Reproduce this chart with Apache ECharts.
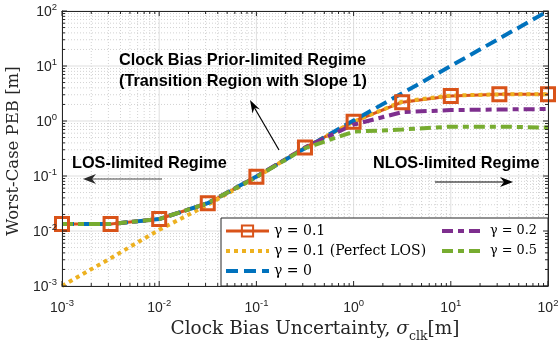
<!DOCTYPE html>
<html><head><meta charset="utf-8">
<script src="https://cdn.jsdelivr.net/npm/echarts@6/dist/echarts.min.js"></script>
<style>html,body{margin:0;padding:0;background:#fff}#c{width:558px;height:340px}</style>
</head><body><div id="c"></div>
<script>
// ---- data ----
const sigmaClk = [0.001, 0.00316, 0.01, 0.0316, 0.1, 0.316, 1, 3.16, 10, 31.6, 100];
const pebGamma01 = [0.0134, 0.0134, 0.0165, 0.032, 0.097, 0.33, 0.97, 2.2, 2.85, 3.05, 3.05];
const pebGamma01PerfectLOS = [0.001, 0.0032, 0.0105, 0.03, 0.095, 0.33, 0.97, 2.25, 2.9, 3.05, 3.05];
const pebGamma0 = [0.0134, 0.0134, 0.0165, 0.032, 0.098, 0.32, 1.02, 3.2, 10, 31.6, 100];
const pebGamma02 = [0.0134, 0.0134, 0.0165, 0.032, 0.097, 0.33, 0.86, 1.45, 1.58, 1.62, 1.65];
const pebGamma05 = [0.0134, 0.0134, 0.0165, 0.032, 0.096, 0.32, 0.64, 0.7, 0.79, 0.79, 0.76];
const seriesNames = ['γ = 0.1', 'γ = 0.1 (Perfect LOS)', 'γ = 0', 'γ = 0.2', 'γ = 0.5'];
const axisMin = 0.001, axisMax = 100;
const decadeExponents = [-3, -2, -1, 0, 1, 2];

// grid positions (major decades + minor 2..9)
const gridVals = [];
decadeExponents.forEach(e => {
  gridVals.push([Math.pow(10, e), 1]);
  if (e < 2) for (let m = 2; m <= 9; m++) gridVals.push([m * Math.pow(10, e), 0]);
});

const AX = '#262626';
const sans = 'Liberation Sans, Arial, sans-serif';
const serif = 'DejaVu Serif, serif';

const chart = echarts.init(document.getElementById('c'), null, {renderer: 'canvas'});

function pairs(ys) { return sigmaClk.map((x, i) => [x, ys[i]]); }

const tickLabel = {
  formatter: v => '{b|10}{s|' + Math.round(Math.log10(v)) + '}',
  rich: {
    b: {fontSize: 14, fontFamily: sans, color: AX, verticalAlign: 'bottom'},
    s: {fontSize: 9.5, fontFamily: sans, color: AX, verticalAlign: 'bottom', padding: [0, 0, 7, 0]}
  }
};

function xGridItem(params, api) {
  const v = api.value(0), major = api.value(2);
  const a = api.coord([v, axisMin]), b = api.coord([v, axisMax]);
  return {type: 'line', silent: true,
    shape: {x1: a[0], y1: a[1], x2: b[0], y2: b[1]},
    style: major ? {stroke: '#dfdfdf', lineWidth: 1} : {stroke: '#d2d2d2', lineWidth: 1, lineDash: [1, 2]}};
}
function yGridItem(params, api) {
  const v = api.value(1), major = api.value(2);
  const a = api.coord([axisMin, v]), b = api.coord([axisMax, v]);
  return {type: 'line', silent: true,
    shape: {x1: a[0], y1: a[1], x2: b[0], y2: b[1]},
    style: major ? {stroke: '#dfdfdf', lineWidth: 1} : {stroke: '#d2d2d2', lineWidth: 1, lineDash: [1, 2]}};
}
function xTickItem(params, api) {
  const v = api.value(0), major = api.value(2);
  const a = api.coord([v, axisMin]), b = api.coord([v, axisMax]);
  const L = major ? 5 : 3;
  return {type: 'group', silent: true, children: [
    {type: 'line', shape: {x1: a[0], y1: a[1], x2: a[0], y2: a[1] - L}, style: {stroke: AX, lineWidth: 1}},
    {type: 'line', shape: {x1: b[0], y1: b[1], x2: b[0], y2: b[1] + L}, style: {stroke: AX, lineWidth: 1}}
  ]};
}
function yTickItem(params, api) {
  const v = api.value(1), major = api.value(2);
  const a = api.coord([axisMin, v]), b = api.coord([axisMax, v]);
  const L = major ? 5 : 3;
  return {type: 'group', silent: true, children: [
    {type: 'line', shape: {x1: a[0], y1: a[1], x2: a[0] + L, y2: a[1]}, style: {stroke: AX, lineWidth: 1}},
    {type: 'line', shape: {x1: b[0], y1: b[1], x2: b[0] - L, y2: b[1]}, style: {stroke: AX, lineWidth: 1}}
  ]};
}

const xGridData = gridVals.map(g => [g[0], 0.01, g[1]]);
const yGridData = gridVals.map(g => [0.01, g[0], g[1]]);

const legendLineWidths = [3, 4, 4, 4, 4];
function legItem(i) {
  const it = {name: seriesNames[i], lineStyle: {width: legendLineWidths[i]}};
  if (i !== 0) it.itemStyle = {opacity: 0};
  return it;
}

const annFont = 'bold 16.3px ' + sans;

const option = {
  animation: false,
  backgroundColor: '#fff',
  grid: {left: 62, right: 10, top: 11, bottom: 54, outerBoundsMode: 'none', containLabel: false},
  xAxis: [{
    type: 'log', logBase: 10, min: axisMin, max: axisMax, splitNumber: 5, z: 30,
    axisLine: {show: true, lineStyle: {color: AX, width: 1}},
    axisTick: {show: false}, splitLine: {show: false}, minorTick: {show: false},
    axisLabel: Object.assign({margin: 12}, tickLabel),
    name: '{t|Clock Bias Uncertainty, }{i|σ}{sub|clk}{t|[m]}',
    nameLocation: 'middle', nameGap: 30,
    nameTextStyle: {
      padding: [0, 0, 0, 20],
      rich: {
        t: {fontFamily: serif, fontSize: 18.5, color: AX, verticalAlign: 'bottom', padding: [0, 0, 4, 0]},
        i: {fontFamily: serif, fontSize: 18.5, fontStyle: 'italic', color: AX, verticalAlign: 'bottom', padding: [0, 0, 4, 0]},
        sub: {fontFamily: serif, fontSize: 12.5, color: AX, verticalAlign: 'bottom'}
      }
    }
  }, {
    type: 'log', logBase: 10, min: axisMin, max: axisMax, position: 'top', z: 30,
    axisLine: {show: true, onZero: false, lineStyle: {color: AX, width: 1}},
    axisTick: {show: false}, axisLabel: {show: false}, splitLine: {show: false}
  }],
  yAxis: [{
    type: 'log', logBase: 10, min: axisMin, max: axisMax, splitNumber: 5, z: 30,
    axisLine: {show: true, lineStyle: {color: AX, width: 1}},
    axisTick: {show: false}, splitLine: {show: false}, minorTick: {show: false},
    axisLabel: Object.assign({margin: 5}, tickLabel),
    name: 'Worst-Case PEB [m]', nameLocation: 'middle', nameGap: 38, nameRotate: 90,
    nameTextStyle: {fontFamily: serif, fontSize: 16.5, color: AX, padding: [0, 5, 0, 0]}
  }, {
    type: 'log', logBase: 10, min: axisMin, max: axisMax, position: 'right', z: 30,
    axisLine: {show: true, onZero: false, lineStyle: {color: AX, width: 1}},
    axisTick: {show: false}, axisLabel: {show: false}, splitLine: {show: false}
  }],
  legend: [{
    data: [0, 1, 2].map(legItem), orient: 'vertical', left: 224, top: 224, z: 20,
    itemWidth: 43, itemHeight: 14, itemGap: 6, padding: 0, selectedMode: false,
    textStyle: {fontFamily: serif, fontSize: 14, color: '#000', lineHeight: 14}
  }, {
    data: [3, 4].map(legItem), orient: 'vertical', left: 440, top: 224, z: 20,
    itemWidth: 43, itemHeight: 14, itemGap: 6, padding: 0, selectedMode: false,
    textStyle: {fontFamily: serif, fontSize: 12.8, color: '#000', lineHeight: 14}
  }],
  graphic: [
    {type: 'rect', z: 10, shape: {x: 221, y: 218, width: 327, height: 68}, style: {fill: '#fff', stroke: AX, lineWidth: 1}},
    {type: 'text', z: 15, x: 119, y: 61, style: {text: 'Clock Bias Prior-limited Regime', font: annFont, fill: '#000', verticalAlign: 'middle'}},
    {type: 'text', z: 15, x: 119, y: 82, style: {text: '(Transition Region with Slope 1)', font: annFont, fill: '#000', verticalAlign: 'middle'}},
    {type: 'text', z: 15, x: 72, y: 164, style: {text: 'LOS-limited Regime', font: annFont, fill: '#000', verticalAlign: 'middle'}},
    {type: 'text', z: 15, x: 373, y: 164, style: {text: 'NLOS-limited Regime', font: annFont, fill: '#000', verticalAlign: 'middle'}},
    // LOS arrow (left)
    {type: 'line', z: 15, shape: {x1: 162, y1: 179, x2: 92, y2: 179}, style: {stroke: '#4a4a4a', lineWidth: 1.2}},
    {type: 'polygon', z: 15, shape: {points: [[83, 179], [96, 174], [92, 179], [96, 184]]}, style: {fill: '#2a2a2a'}},
    // NLOS arrow (right)
    {type: 'line', z: 15, shape: {x1: 435, y1: 182, x2: 505, y2: 182}, style: {stroke: '#000', lineWidth: 1.2}},
    {type: 'polygon', z: 15, shape: {points: [[513, 182], [500, 177], [504, 182], [500, 187]]}, style: {fill: '#000'}},
    // diagonal arrow
    {type: 'line', z: 15, shape: {x1: 279, y1: 150, x2: 254, y2: 107}, style: {stroke: '#000', lineWidth: 1.2}},
    {type: 'polygon', z: 15, shape: {points: [[250, 100], [252.5, 113.5], [254.5, 107.5], [260, 109.5]]}, style: {fill: '#000'}}
  ],
  series: [
    {type: 'custom', name: 'xgrid', data: xGridData, renderItem: xGridItem, z: 1, silent: true, clip: false},
    {type: 'custom', name: 'ygrid', data: yGridData, renderItem: yGridItem, z: 1, silent: true, clip: false},
    {
      type: 'line', name: seriesNames[0], data: pairs(pebGamma01), z: 3,
      symbol: 'rect', symbolSize: 13, showAllSymbol: true,
      color: '#D95319',
      lineStyle: {color: '#D95319', width: 3},
      itemStyle: {color: 'rgba(255,255,255,0)', borderColor: '#D95319', borderWidth: 3}
    },
    {
      type: 'line', name: seriesNames[1], data: pairs(pebGamma01PerfectLOS), z: 3,
      symbol: 'none', color: '#EDB120',
      lineStyle: {color: '#EDB120', width: 4, type: [4, 4], cap: 'butt'}
    },
    {
      type: 'line', name: seriesNames[2], data: pairs(pebGamma0), z: 3,
      symbol: 'none', color: '#0072BD',
      lineStyle: {color: '#0072BD', width: 4, type: [12, 6]}
    },
    {
      type: 'line', name: seriesNames[3], data: pairs(pebGamma02), z: 3,
      symbol: 'none', color: '#7E2F8E',
      lineStyle: {color: '#7E2F8E', width: 4, type: [11, 5, 6, 5]}
    },
    {
      type: 'line', name: seriesNames[4], data: pairs(pebGamma05), z: 3,
      symbol: 'none', color: '#77AC30',
      lineStyle: {color: '#77AC30', width: 4, type: [11, 5, 6, 5]}
    },
    {type: 'custom', name: 'xticks', data: xGridData, renderItem: xTickItem, z: 25, silent: true, clip: false},
    {type: 'custom', name: 'yticks', data: yGridData, renderItem: yTickItem, z: 25, silent: true, clip: false}
  ]
};
chart.setOption(option);
</script>
</body></html>
